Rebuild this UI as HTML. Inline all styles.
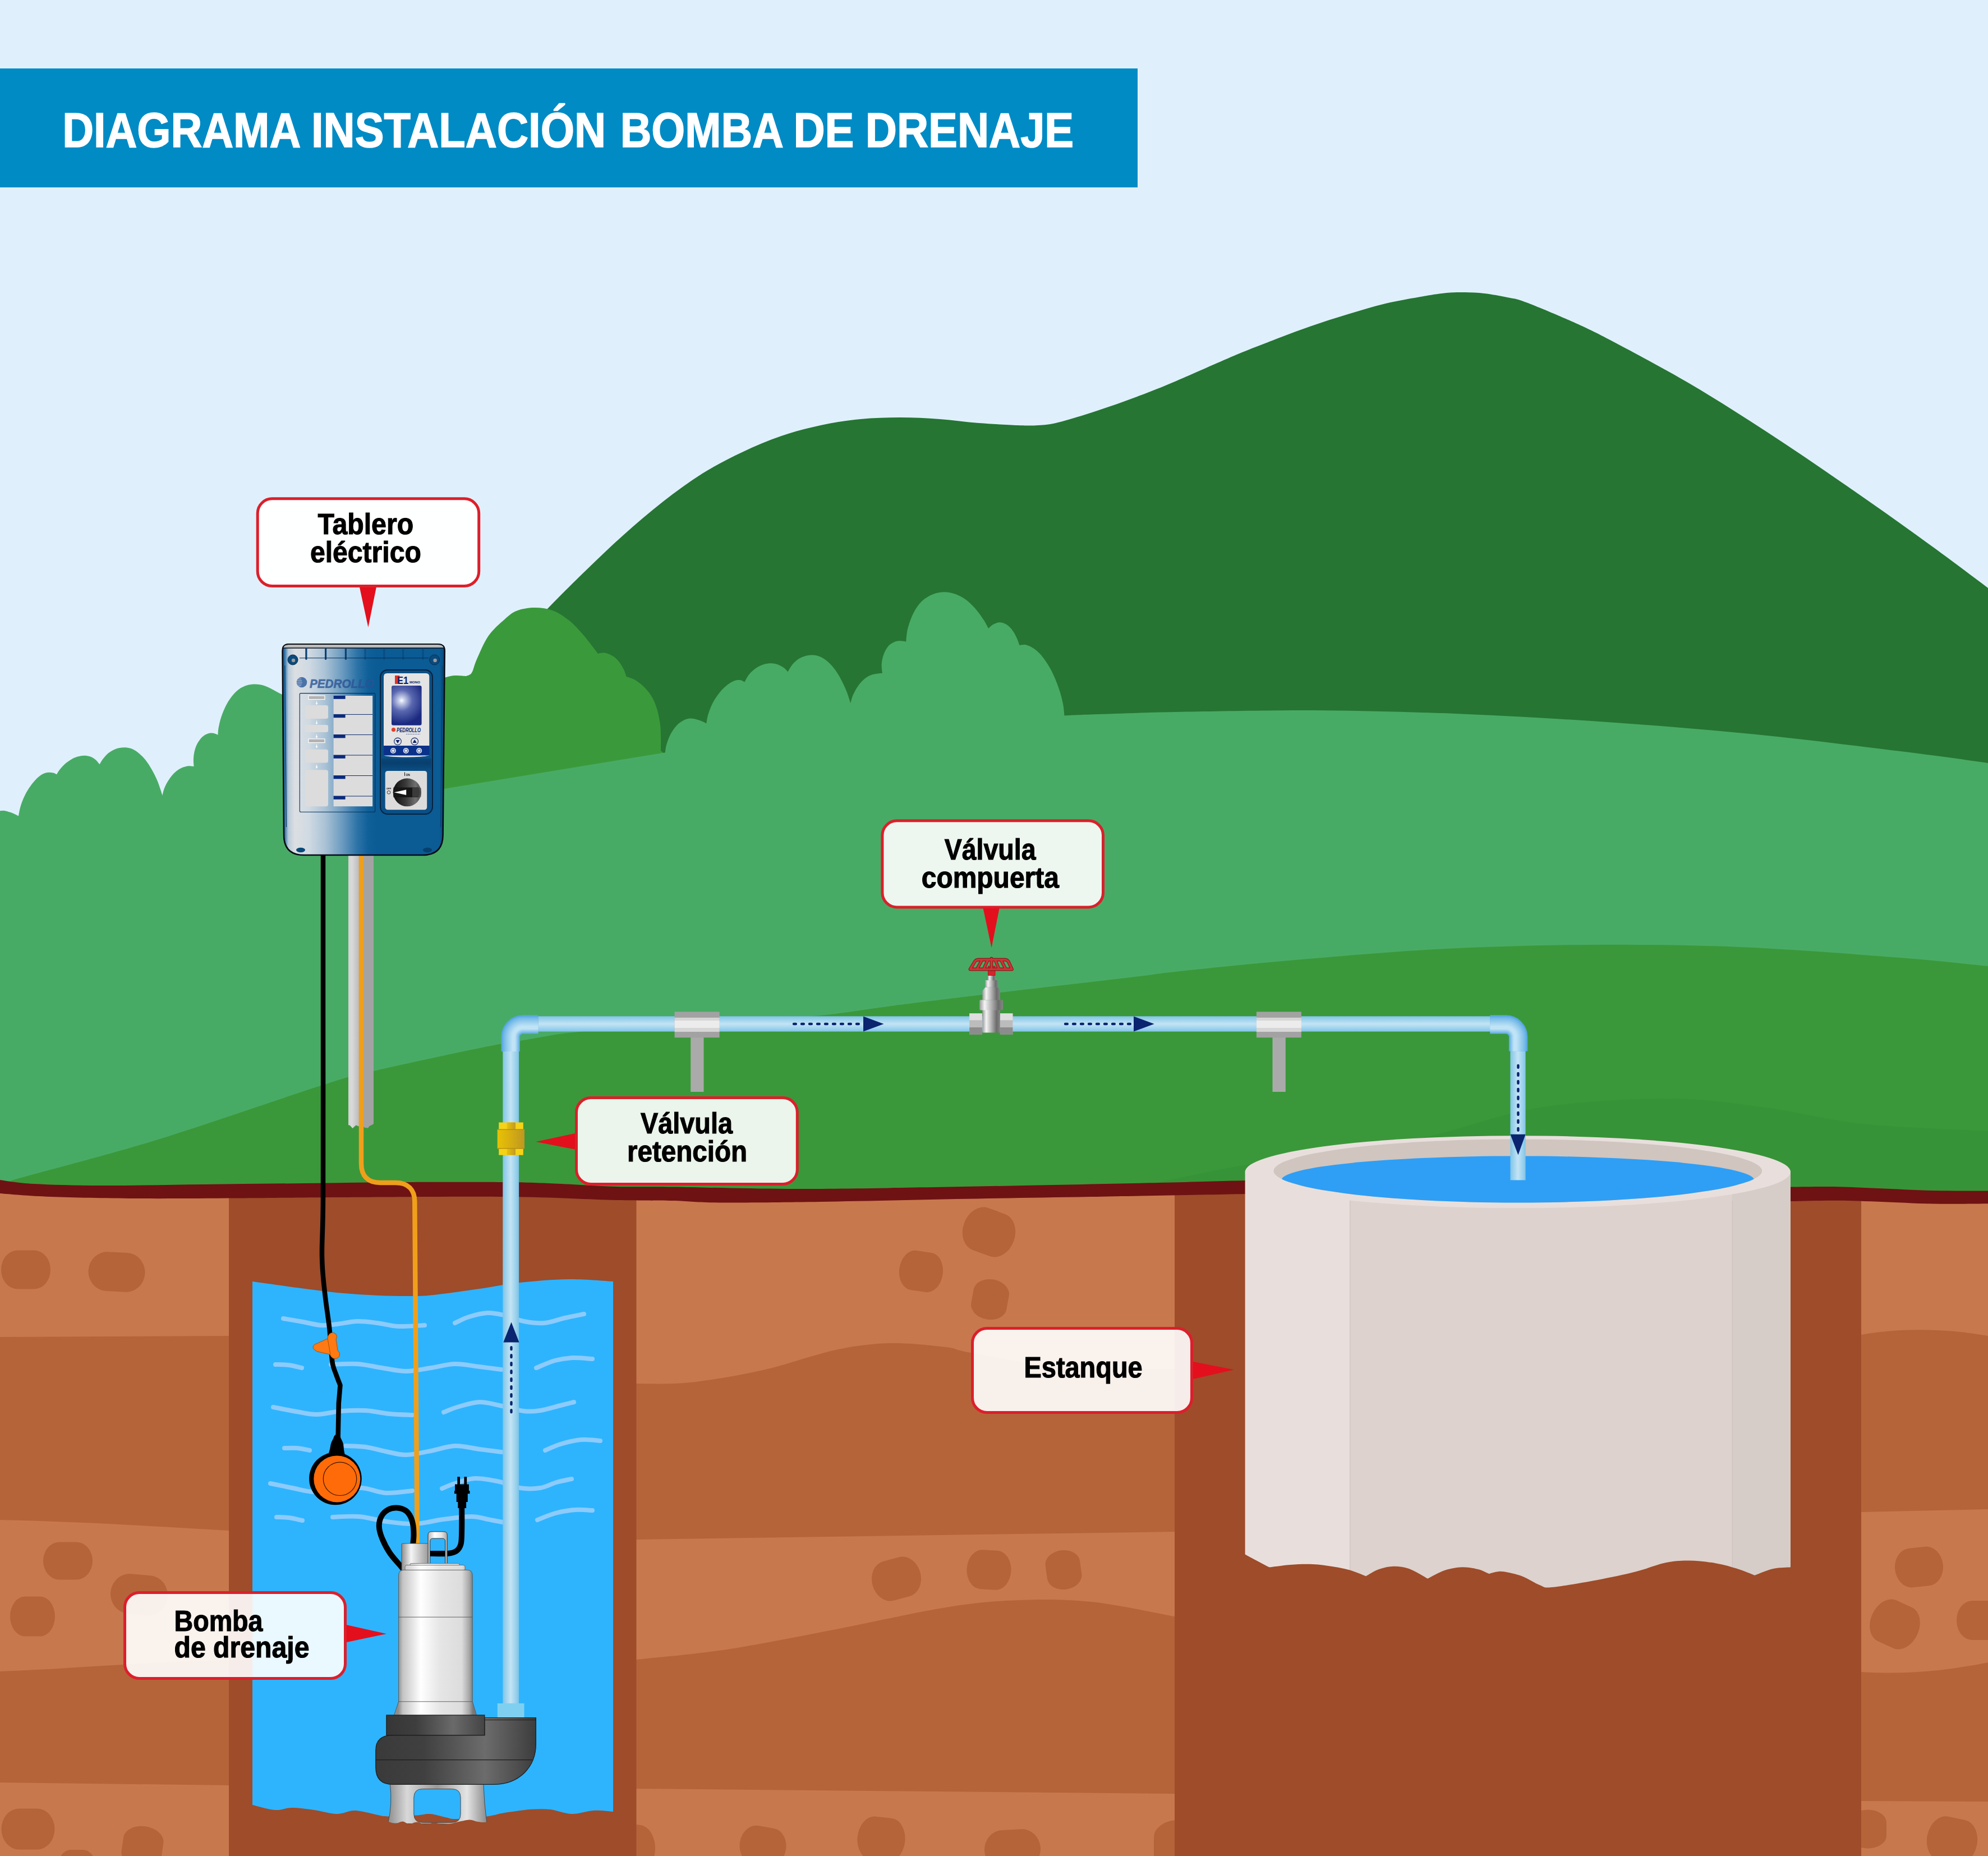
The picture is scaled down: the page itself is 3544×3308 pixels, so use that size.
<!DOCTYPE html>
<html><head><meta charset="utf-8">
<title>Diagrama instalación bomba de drenaje</title>
<style>
html,body{margin:0;padding:0;background:#dff0fc;}
svg{display:block;}
text{font-family:"Liberation Sans",sans-serif;font-weight:bold;}
</style></head>
<body>
<svg width="3544" height="3308" viewBox="0 0 3544 3308">
<defs>
<linearGradient id="cg" x1="621" x2="641" y1="0" y2="0" gradientUnits="userSpaceOnUse"><stop offset="0" stop-color="#d2d2d2"/><stop offset="0.3" stop-color="#dadada"/><stop offset="1" stop-color="#b9b9b9"/></linearGradient>
<linearGradient id="pv" x1="896" x2="925" y1="0" y2="0" gradientUnits="userSpaceOnUse"><stop offset="0" stop-color="#7fc3e6"/><stop offset="0.18" stop-color="#98d0ec"/><stop offset="0.5" stop-color="#c3e4f4"/><stop offset="0.82" stop-color="#98d0ec"/><stop offset="1" stop-color="#7fc3e6"/></linearGradient>
<linearGradient id="pv2" x1="2692" x2="2720" y1="0" y2="0" gradientUnits="userSpaceOnUse"><stop offset="0" stop-color="#7fc3e6"/><stop offset="0.18" stop-color="#98d0ec"/><stop offset="0.5" stop-color="#c3e4f4"/><stop offset="0.82" stop-color="#98d0ec"/><stop offset="1" stop-color="#7fc3e6"/></linearGradient>
<linearGradient id="ph" x1="0" x2="0" y1="1811" y2="1839" gradientUnits="userSpaceOnUse"><stop offset="0" stop-color="#7fc3e6"/><stop offset="0.18" stop-color="#98d0ec"/><stop offset="0.5" stop-color="#c3e4f4"/><stop offset="0.82" stop-color="#98d0ec"/><stop offset="1" stop-color="#7fc3e6"/></linearGradient>
<linearGradient id="brass" x1="886" x2="935" y1="0" y2="0" gradientUnits="userSpaceOnUse"><stop offset="0" stop-color="#e9c204"/><stop offset="0.45" stop-color="#d8b010"/><stop offset="1" stop-color="#be9722"/></linearGradient>
<linearGradient id="brassn" x1="903.5" x2="919" y1="0" y2="0" gradientUnits="userSpaceOnUse"><stop offset="0" stop-color="#e4c20c"/><stop offset="0.7" stop-color="#cfa516"/><stop offset="1" stop-color="#c09a2a"/></linearGradient>
<linearGradient id="slv" x1="0" x2="1" y1="0" y2="0"><stop offset="0" stop-color="#9a9a9a"/><stop offset="0.22" stop-color="#f4f4f4"/><stop offset="0.5" stop-color="#b4b4b4"/><stop offset="0.8" stop-color="#6c6c6c"/><stop offset="1" stop-color="#858585"/></linearGradient>
<linearGradient id="pb" x1="710" x2="843" y1="0" y2="0" gradientUnits="userSpaceOnUse"><stop offset="0" stop-color="#8d8d8d"/><stop offset="0.06" stop-color="#c4c4c4"/><stop offset="0.3" stop-color="#ffffff"/><stop offset="0.55" stop-color="#e6e6e6"/><stop offset="0.85" stop-color="#dcdcdc"/><stop offset="0.95" stop-color="#a8a8a8"/><stop offset="1" stop-color="#787878"/></linearGradient>
<linearGradient id="pgl" x1="716" x2="764" y1="0" y2="0" gradientUnits="userSpaceOnUse"><stop offset="0" stop-color="#8d8d8d"/><stop offset="0.35" stop-color="#f5f5f5"/><stop offset="1" stop-color="#9a9a9a"/></linearGradient>
<linearGradient id="pvol" x1="670" x2="956" y1="0" y2="0" gradientUnits="userSpaceOnUse"><stop offset="0" stop-color="#3a3a3a"/><stop offset="0.3" stop-color="#404040"/><stop offset="0.68" stop-color="#6c6c6c"/><stop offset="1" stop-color="#3c3c3c"/></linearGradient>
<linearGradient id="pcol" x1="689" x2="864" y1="0" y2="0" gradientUnits="userSpaceOnUse"><stop offset="0" stop-color="#363636"/><stop offset="0.3" stop-color="#3e3e3e"/><stop offset="0.68" stop-color="#6a6a6a"/><stop offset="1" stop-color="#444"/></linearGradient>
<linearGradient id="pleg" x1="690" x2="868" y1="0" y2="0" gradientUnits="userSpaceOnUse"><stop offset="0" stop-color="#8a8a8a"/><stop offset="0.2" stop-color="#d8d8d8"/><stop offset="0.5" stop-color="#9a9a9a"/><stop offset="0.8" stop-color="#e4e4e4"/><stop offset="1" stop-color="#8a8a8a"/></linearGradient>
<linearGradient id="hdl" x1="763" x2="797.3" y1="0" y2="0" gradientUnits="userSpaceOnUse"><stop offset="0" stop-color="#b5b5b5"/><stop offset="0.35" stop-color="#ffffff"/><stop offset="0.7" stop-color="#e6e6e6"/><stop offset="1" stop-color="#a5a5a5"/></linearGradient>
<clipPath id="tin"><ellipse cx="2705.8" cy="2087" rx="435.4" ry="56.5"/></clipPath>
<linearGradient id="pg" x1="504" x2="792" y1="0" y2="0" gradientUnits="userSpaceOnUse"><stop offset="0" stop-color="#0b5792"/><stop offset="0.012" stop-color="#2f72a6"/><stop offset="0.035" stop-color="#b9cbda"/><stop offset="0.075" stop-color="#dcdfe2"/><stop offset="0.16" stop-color="#d0dae3"/><stop offset="0.26" stop-color="#abc3d6"/><stop offset="0.37" stop-color="#6a9abf"/><stop offset="0.46" stop-color="#2d74a7"/><stop offset="0.53" stop-color="#0f5f99"/><stop offset="0.58" stop-color="#0b5b95"/><stop offset="0.97" stop-color="#0b5b95"/><stop offset="1" stop-color="#084a7c"/></linearGradient>
<radialGradient id="lcd" cx="716" cy="1248.5" r="42" gradientUnits="userSpaceOnUse"><stop offset="0" stop-color="#ffffff"/><stop offset="0.12" stop-color="#c9d0ea"/><stop offset="0.45" stop-color="#5a68b0"/><stop offset="1" stop-color="#1b2a80"/></radialGradient>
<linearGradient id="knob" x1="701" x2="751" y1="0" y2="0" gradientUnits="userSpaceOnUse"><stop offset="0" stop-color="#0e0e0e"/><stop offset="0.45" stop-color="#3a3a3a"/><stop offset="0.8" stop-color="#707070"/><stop offset="1" stop-color="#4a4a4a"/></linearGradient>
<linearGradient id="modg" x1="0" x2="0" y1="1346" y2="1374" gradientUnits="userSpaceOnUse"><stop offset="0" stop-color="#0a4a80"/><stop offset="0.5" stop-color="#083d6b"/><stop offset="1" stop-color="#0a4f85"/></linearGradient>
</defs>
<rect width="3544" height="3308" fill="#dff0fc"/>
<rect x="0" y="122" width="2028" height="212" fill="#008bc5"/>
<text x="111.2" y="261.6" font-size="87.6" fill="#fff" stroke="#fff" stroke-width="1.6" textLength="425.1" lengthAdjust="spacingAndGlyphs">DIAGRAMA</text>
<text x="555.0" y="261.6" font-size="87.6" fill="#fff" stroke="#fff" stroke-width="1.6" textLength="525.2" lengthAdjust="spacingAndGlyphs">INSTALACIÓN</text>
<text x="1105.7" y="261.6" font-size="87.6" fill="#fff" stroke="#fff" stroke-width="1.6" textLength="291.1" lengthAdjust="spacingAndGlyphs">BOMBA</text>
<text x="1414.4" y="261.6" font-size="87.6" fill="#fff" stroke="#fff" stroke-width="1.6" textLength="108.1" lengthAdjust="spacingAndGlyphs">DE</text>
<text x="1542.8" y="261.6" font-size="87.6" fill="#fff" stroke="#fff" stroke-width="1.6" textLength="371.4" lengthAdjust="spacingAndGlyphs">DRENAJE</text>
<path fill="#267533" d="M900.0,1165.0 C912.8,1151.5 953.5,1108.2 977.0,1084.0 C1000.5,1059.8 1018.7,1041.7 1041.0,1020.0 C1063.3,998.3 1087.5,975.0 1111.0,954.0 C1134.5,933.0 1158.5,912.3 1182.0,894.0 C1205.5,875.7 1228.5,858.7 1252.0,844.0 C1275.5,829.3 1299.5,817.2 1323.0,806.0 C1346.5,794.8 1369.7,785.0 1393.0,777.0 C1416.3,769.0 1439.5,763.0 1463.0,758.0 C1486.5,753.0 1510.5,749.3 1534.0,747.0 C1557.5,744.7 1580.5,744.0 1604.0,744.0 C1627.5,744.0 1651.5,745.3 1675.0,747.0 C1698.5,748.7 1721.7,752.2 1745.0,754.0 C1768.3,755.8 1797.3,757.3 1815.0,758.0 C1832.7,758.7 1839.2,758.8 1851.0,758.0 C1862.8,757.2 1868.5,757.3 1886.0,753.0 C1903.5,748.7 1932.5,739.7 1956.0,732.0 C1979.5,724.3 2003.5,715.8 2027.0,707.0 C2050.5,698.2 2068.2,691.2 2097.0,679.0 C2125.8,666.8 2171.5,646.0 2200.0,634.0 C2228.5,622.0 2245.5,615.7 2268.0,607.0 C2290.5,598.3 2312.5,589.8 2335.0,582.0 C2357.5,574.2 2380.5,566.8 2403.0,560.0 C2425.5,553.2 2447.5,546.3 2470.0,541.0 C2492.5,535.7 2519.8,531.2 2538.0,528.0 C2556.2,524.8 2566.7,523.2 2579.0,522.0 C2591.3,520.8 2600.8,520.8 2612.0,521.0 C2623.2,521.2 2633.5,521.5 2646.0,523.0 C2658.5,524.5 2674.5,527.3 2687.0,530.0 C2699.5,532.7 2700.7,531.3 2721.0,539.0 C2741.3,546.7 2783.2,564.3 2809.0,576.0 C2834.8,587.7 2842.3,591.2 2876.0,609.0 C2909.7,626.8 2965.8,656.5 3011.0,683.0 C3056.2,709.5 3101.8,738.7 3147.0,768.0 C3192.2,797.3 3237.0,828.0 3282.0,859.0 C3327.0,890.0 3373.3,922.5 3417.0,954.0 C3460.7,985.5 3496.8,1012.3 3544.0,1048.0 C3591.2,1083.7 3674.0,1148.0 3700.0,1168.0 L3700,1600 L900,1600 Z"/>
<path fill="#3a9a3b" d="M760.0,1215.0 L760.0,1215.0 C765.2,1213.8 782.7,1209.8 791.0,1208.0 C799.3,1206.2 803.3,1204.5 810.0,1204.0 C816.7,1203.5 827.5,1204.8 831.0,1205.0 L831.0,1205.0 C832.7,1204.0 837.8,1204.0 841.0,1199.0 C844.2,1194.0 845.0,1186.0 850.0,1175.0 C855.0,1164.0 862.7,1144.9 871.0,1133.0 C879.3,1121.1 891.6,1110.8 900.0,1103.4 C908.4,1096.0 912.6,1091.8 921.6,1088.4 C930.6,1085.0 943.1,1083.0 953.9,1083.0 C964.7,1083.0 976.2,1084.6 986.2,1088.4 C996.2,1092.2 1005.6,1098.8 1014.2,1105.6 C1022.8,1112.4 1031.1,1121.8 1037.9,1129.3 C1044.7,1136.8 1050.5,1145.0 1055.2,1150.9 C1059.9,1156.8 1064.2,1162.6 1066.0,1164.9 L1066.0,1164.9 C1068.2,1164.7 1074.2,1162.9 1078.9,1163.8 C1083.6,1164.7 1089.7,1167.4 1094.0,1170.3 C1098.3,1173.2 1101.7,1177.0 1104.7,1181.0 C1107.8,1185.0 1110.3,1189.9 1112.3,1194.0 C1114.3,1198.1 1115.9,1203.8 1116.6,1205.8 L1116.6,1205.8 C1119.3,1206.9 1127.2,1208.9 1132.8,1212.3 C1138.4,1215.7 1145.0,1221.1 1150.0,1226.3 C1155.0,1231.5 1159.3,1237.0 1162.9,1243.5 C1166.5,1250.0 1169.3,1257.2 1171.6,1265.1 C1173.9,1273.0 1175.8,1283.1 1176.9,1291.0 C1178.0,1298.9 1177.8,1304.7 1178.0,1312.5 C1178.2,1320.3 1178.0,1333.8 1178.0,1338.0 L1186,1345 L760,1420 Z"/>
<path fill="#48ab65" d="M-20.0,1446.0 L-20.0,1446.0 C-16.7,1445.9 -4.7,1445.4 0.0,1445.2 C4.7,1445.0 5.1,1444.5 8.0,1444.9 C10.9,1445.3 14.7,1446.6 17.7,1447.6 C20.7,1448.6 23.2,1449.7 25.8,1450.8 C28.4,1451.9 31.8,1453.8 33.0,1454.4 L33.0,1454.4 C33.5,1451.8 34.6,1444.3 36.2,1438.8 C37.8,1433.2 40.2,1426.7 42.7,1421.1 C45.2,1415.5 48.1,1410.1 51.5,1405.0 C54.9,1399.9 59.0,1394.5 62.8,1390.5 C66.5,1386.5 70.2,1383.1 74.0,1380.8 C77.8,1378.5 81.8,1377.3 85.3,1376.8 C88.8,1376.3 92.4,1377.0 95.0,1377.6 C97.6,1378.2 100.1,1379.8 101.1,1380.3 L101.1,1380.3 C101.9,1378.9 103.7,1375.1 106.2,1372.0 C108.7,1368.9 112.4,1364.6 115.9,1361.5 C119.4,1358.4 123.5,1355.7 127.2,1353.5 C130.9,1351.3 134.7,1349.7 138.4,1348.6 C142.2,1347.5 145.9,1346.7 149.7,1346.7 C153.5,1346.7 157.5,1347.3 161.0,1348.6 C164.5,1349.9 167.8,1352.0 170.6,1354.3 C173.3,1356.6 176.3,1361.0 177.5,1362.3 L177.5,1362.3 C178.5,1360.7 180.9,1356.0 183.5,1352.7 C186.1,1349.4 189.4,1345.2 193.2,1342.2 C196.9,1339.2 201.4,1336.6 206.0,1334.9 C210.6,1333.2 215.9,1332.3 220.5,1332.2 C225.1,1332.1 229.1,1332.6 233.4,1334.1 C237.7,1335.6 242.0,1338.0 246.3,1341.4 C250.6,1344.8 255.2,1349.3 259.2,1354.3 C263.2,1359.3 266.9,1365.2 270.4,1371.2 C273.9,1377.2 277.4,1384.3 280.1,1390.5 C282.8,1396.7 284.9,1403.7 286.5,1408.2 C288.1,1412.8 288.9,1416.2 289.4,1417.8 L289.4,1417.8 C290.0,1415.7 291.2,1409.5 292.9,1405.3 C294.6,1401.0 296.7,1396.6 299.4,1392.3 C302.1,1388.0 305.6,1382.9 309.2,1379.2 C312.8,1375.5 317.1,1372.2 321.0,1370.0 C324.9,1367.8 329.5,1366.6 332.8,1365.8 C336.1,1365.0 338.5,1365.4 340.6,1365.4 C342.7,1365.5 344.8,1366.0 345.6,1366.1 L345.6,1366.1 C345.5,1364.1 344.8,1358.7 344.9,1354.3 C345.0,1349.9 345.4,1344.7 346.5,1339.9 C347.6,1335.1 349.4,1329.9 351.7,1325.6 C354.0,1321.2 357.2,1316.8 360.2,1313.8 C363.1,1310.8 366.3,1309.1 369.4,1307.9 C372.5,1306.7 376.0,1306.5 378.6,1306.6 C381.2,1306.7 383.5,1307.8 385.1,1308.3 C386.7,1308.8 387.8,1309.6 388.4,1309.9 L388.4,1309.9 C388.6,1307.7 388.7,1302.0 389.7,1296.8 C390.7,1291.6 392.1,1284.8 394.2,1278.5 C396.3,1272.2 399.0,1265.0 402.1,1258.9 C405.2,1252.8 408.7,1246.9 412.6,1241.9 C416.5,1236.9 421.0,1232.2 425.6,1228.8 C430.2,1225.4 435.0,1223.1 440.0,1221.6 C445.0,1220.1 450.5,1219.5 455.7,1219.6 C460.9,1219.7 466.2,1220.6 471.4,1222.2 C476.6,1223.8 482.3,1227.0 487.1,1229.4 C491.9,1231.8 497.2,1235.0 500.2,1236.6 C503.1,1238.2 501.5,1236.6 504.8,1239.2 C508.1,1241.8 515.0,1246.5 520.0,1252.0 C525.0,1257.5 532.5,1268.7 535.0,1272.0 L535,1450 L791,1406 L1185.8,1341.2 L1185.8,1341.2 C1186.2,1338.8 1186.6,1332.5 1188.2,1327.1 C1189.8,1321.7 1192.2,1314.7 1195.2,1309.0 C1198.2,1303.3 1202.4,1297.1 1206.3,1292.9 C1210.2,1288.7 1214.4,1286.0 1218.4,1283.9 C1222.4,1281.8 1226.1,1280.6 1230.4,1280.4 C1234.8,1280.2 1240.5,1281.8 1244.5,1282.9 C1248.5,1284.0 1252.1,1285.8 1254.6,1286.9 C1257.0,1288.0 1258.4,1288.9 1259.2,1289.3 L1259.2,1289.3 C1259.8,1286.5 1260.7,1278.9 1262.6,1272.8 C1264.5,1266.7 1267.3,1259.1 1270.7,1252.7 C1274.1,1246.3 1278.4,1240.0 1282.7,1234.6 C1287.0,1229.2 1292.4,1224.0 1296.8,1220.5 C1301.2,1217.0 1305.2,1214.8 1308.9,1213.4 C1312.6,1212.0 1315.9,1211.7 1319.0,1212.0 C1322.1,1212.3 1326.0,1214.9 1327.4,1215.5 L1327.4,1215.5 C1328.7,1213.3 1331.8,1206.4 1335.1,1202.4 C1338.4,1198.4 1342.8,1194.3 1347.1,1191.3 C1351.4,1188.3 1356.5,1185.8 1361.2,1184.3 C1365.9,1182.8 1370.9,1182.2 1375.3,1182.3 C1379.7,1182.4 1383.7,1183.4 1387.4,1184.7 C1391.1,1186.0 1394.6,1188.2 1397.4,1190.3 C1400.2,1192.4 1403.3,1196.1 1404.5,1197.3 L1404.5,1197.3 C1406.0,1195.0 1410.0,1187.3 1413.5,1183.3 C1417.0,1179.3 1421.2,1175.7 1425.6,1173.2 C1430.0,1170.7 1435.3,1169.1 1439.7,1168.2 C1444.1,1167.3 1447.5,1167.1 1451.8,1167.8 C1456.1,1168.5 1461.1,1169.6 1465.8,1172.2 C1470.5,1174.8 1475.5,1178.9 1479.9,1183.3 C1484.3,1187.7 1488.3,1192.9 1492.0,1198.4 C1495.7,1203.9 1499.1,1210.5 1502.1,1216.5 C1505.1,1222.5 1507.8,1228.5 1510.1,1234.6 C1512.4,1240.7 1515.2,1250.1 1516.2,1253.2 L1516.2,1253.2 C1517.0,1250.8 1518.4,1243.8 1520.8,1238.5 C1523.2,1233.2 1526.8,1226.5 1530.5,1221.5 C1534.2,1216.5 1538.8,1211.7 1543.0,1208.5 C1547.2,1205.3 1550.5,1203.7 1555.5,1202.2 C1560.5,1200.8 1570.0,1200.2 1572.9,1199.8 L1572.9,1199.8 C1572.7,1197.1 1571.3,1189.2 1571.7,1183.5 C1572.1,1177.8 1573.4,1171.4 1575.5,1165.9 C1577.6,1160.5 1580.8,1154.6 1584.3,1150.8 C1587.8,1147.0 1592.8,1144.6 1596.8,1143.2 C1600.8,1141.8 1605.0,1142.4 1608.1,1142.5 C1611.2,1142.6 1614.0,1143.5 1615.2,1143.7 L1615.2,1143.7 C1615.7,1139.8 1616.0,1129.1 1618.2,1120.6 C1620.4,1112.1 1624.1,1101.1 1628.3,1092.9 C1632.5,1084.7 1637.5,1077.2 1643.4,1071.6 C1649.3,1065.9 1656.8,1061.7 1663.5,1059.0 C1670.2,1056.3 1676.9,1055.2 1683.6,1055.2 C1690.3,1055.2 1697.0,1056.5 1703.7,1059.0 C1710.4,1061.5 1717.5,1065.5 1723.8,1070.3 C1730.1,1075.1 1736.4,1082.0 1741.4,1087.9 C1746.4,1093.8 1750.5,1100.1 1754.0,1105.5 C1757.5,1110.9 1760.8,1117.7 1762.1,1120.1 L1762.1,1120.1 C1763.5,1118.9 1767.1,1114.9 1770.4,1113.1 C1773.7,1111.3 1777.7,1109.3 1781.7,1109.3 C1785.7,1109.3 1790.3,1110.6 1794.3,1113.1 C1798.3,1115.6 1802.5,1120.2 1805.6,1124.4 C1808.7,1128.6 1811.1,1133.9 1813.1,1138.2 C1815.1,1142.5 1816.7,1148.0 1817.4,1150.0 L1817.4,1150.0 C1819.4,1149.9 1825.0,1148.3 1829.5,1149.5 C1834.0,1150.7 1839.6,1153.3 1844.6,1157.1 C1849.6,1160.9 1854.7,1165.7 1859.7,1172.2 C1864.7,1178.7 1870.1,1187.1 1874.7,1196.1 C1879.3,1205.1 1883.9,1216.6 1887.3,1226.2 C1890.7,1235.8 1893.2,1245.7 1894.9,1253.9 C1896.6,1262.1 1897.0,1271.7 1897.4,1275.3 C1906.2,1275.0 1915.3,1274.3 1950.0,1273.2 C1984.7,1272.1 2037.1,1269.9 2105.6,1268.7 C2174.1,1267.5 2275.8,1265.5 2361.0,1266.2 C2446.2,1266.9 2531.8,1269.5 2617.0,1273.0 C2702.2,1276.5 2787.3,1281.5 2872.5,1287.5 C2957.7,1293.5 3042.8,1300.3 3128.0,1308.8 C3213.2,1317.3 3314.5,1330.1 3383.8,1338.6 C3453.1,1347.1 3491.3,1352.6 3544.0,1360.0 C3596.7,1367.4 3674.0,1379.2 3700.0,1383.0 L3700,2300 L-20,2300 Z"/>
<path fill="#3a983a" d="M-30.0,2125.0 C-22.0,2121.7 -32.3,2120.2 18.0,2105.0 C68.3,2089.8 179.2,2062.5 272.0,2034.0 C364.8,2005.5 509.3,1954.8 575.0,1934.0 C640.7,1913.2 618.5,1920.2 666.0,1909.0 C713.5,1897.8 814.3,1876.3 860.0,1867.0 C905.7,1857.7 911.0,1857.7 940.0,1853.0 C969.0,1848.3 984.0,1843.7 1034.0,1839.0 C1084.0,1834.3 1170.5,1829.7 1240.0,1825.0 C1309.5,1820.3 1397.7,1815.7 1451.0,1811.0 C1504.3,1806.3 1533.2,1800.5 1560.0,1797.0 C1586.8,1793.5 1580.3,1794.0 1612.0,1790.0 C1643.7,1786.0 1718.7,1776.8 1750.0,1773.0 C1781.3,1769.2 1755.7,1772.2 1800.0,1767.0 C1844.3,1761.8 1966.0,1747.9 2016.0,1742.0 C2066.0,1736.1 2054.8,1736.3 2100.0,1731.5 C2145.2,1726.7 2210.5,1719.6 2287.0,1713.0 C2363.5,1706.4 2468.5,1696.8 2559.0,1692.0 C2649.5,1687.2 2739.5,1684.7 2830.0,1684.0 C2920.5,1683.3 3011.3,1684.3 3102.0,1688.0 C3192.7,1691.7 3300.3,1700.3 3374.0,1706.0 C3447.7,1711.7 3489.7,1716.3 3544.0,1722.0 C3598.3,1727.7 3674.0,1737.0 3700.0,1740.0 L3700,2300 L-30,2300 Z"/>
<path fill="#379337" d="M1980.0,2125.0 C1996.7,2121.5 2043.3,2111.5 2080.0,2104.0 C2116.7,2096.5 2146.7,2089.3 2200.0,2080.0 C2253.3,2070.7 2342.7,2057.0 2400.0,2048.0 C2457.3,2039.0 2486.5,2038.3 2544.0,2026.0 C2601.5,2013.7 2673.2,1985.3 2745.0,1974.0 C2816.8,1962.7 2907.8,1958.0 2975.0,1958.0 C3042.2,1958.0 3090.3,1966.5 3148.0,1974.0 C3205.7,1981.5 3255.0,1996.1 3321.0,2003.0 C3387.0,2009.9 3480.8,2012.7 3544.0,2015.5 C3607.2,2018.3 3674.0,2019.2 3700.0,2020.0 L3700,2300 L1980,2300 Z"/>
<rect x="0" y="2125" width="2400" height="1200" fill="#c8784d"/>
<rect x="2399" y="2130" width="1146" height="1200" fill="#c8784d"/>
<path fill="#b5643a" d="M0,2383 L408,2381 L408,2728 C300,2722 150,2712 0,2709 Z"/>
<path fill="#b5643a" d="M0,2979 C120,2975 250,2962 408,2959 L408,3182 L0,3177 Z"/>
<path fill="#b5643a" d="M1134.0,2466.0 C1150.0,2465.7 1192.3,2468.0 1230.0,2464.0 C1267.7,2460.0 1316.7,2451.7 1360.0,2442.0 C1403.3,2432.3 1452.0,2414.0 1490.0,2406.0 C1528.0,2398.0 1555.3,2394.8 1588.0,2394.0 C1620.7,2393.2 1662.2,2398.2 1686.0,2401.0 C1709.8,2403.8 1695.3,2404.8 1731.0,2411.0 C1766.7,2417.2 1839.5,2433.2 1900.0,2438.0 C1960.5,2442.8 2061.7,2439.7 2094.0,2440.0 L2094,2730 L1134,2744 Z"/>
<path fill="#b5643a" d="M1134.0,2958.0 C1160.8,2955.0 1235.7,2949.0 1295.0,2940.0 C1354.3,2931.0 1424.8,2916.5 1490.0,2904.0 C1555.2,2891.5 1631.7,2873.7 1686.0,2865.0 C1740.3,2856.3 1772.7,2853.7 1816.0,2852.0 C1859.3,2850.3 1899.7,2850.2 1946.0,2855.0 C1992.3,2859.8 2069.3,2876.7 2094.0,2881.0 L2094,3197 L1134,3188 Z"/>
<path fill="#b5643a" d="M3318,2379 C3380,2368 3460,2366 3544,2381 L3544,2690 L3318,2695 Z"/>
<path fill="#b5643a" d="M3318,2980 C3400,2985 3470,2978 3544,2963 L3544,3211 L3318,3210 Z"/>
<rect x="2.0" y="2228.5" width="88.0" height="69.0" rx="29.0" ry="34.5" fill="#b5643a" transform="rotate(0 46.0 2263.0)"/>
<rect x="157.5" y="2232.0" width="101.0" height="70.0" rx="33.3" ry="35.0" fill="#b5643a" transform="rotate(3 208.0 2267.0)"/>
<rect x="77.0" y="2748.5" width="88.0" height="67.0" rx="29.0" ry="33.5" fill="#b5643a" transform="rotate(0 121.0 2782.0)"/>
<rect x="197.0" y="2806.5" width="102.0" height="71.0" rx="33.7" ry="35.5" fill="#b5643a" transform="rotate(5 248.0 2842.0)"/>
<rect x="18.0" y="2845.5" width="80.0" height="71.0" rx="26.4" ry="35.5" fill="#b5643a" transform="rotate(0 58.0 2881.0)"/>
<rect x="2.5" y="3223.5" width="95.0" height="73.0" rx="31.4" ry="36.5" fill="#b5643a" transform="rotate(0 50.0 3260.0)"/>
<rect x="218.0" y="3255.0" width="72.0" height="74.0" rx="36.0" ry="24.4" fill="#b5643a" transform="rotate(8 254.0 3292.0)"/>
<rect x="104.0" y="3297.0" width="66.0" height="56.0" rx="21.8" ry="28.0" fill="#b5643a" transform="rotate(0 137.0 3325.0)"/>
<rect x="1716.0" y="2156.0" width="94.0" height="80.0" rx="31.0" ry="40.0" fill="#b5643a" transform="rotate(20 1763.0 2196.0)"/>
<rect x="1603.0" y="2230.5" width="78.0" height="71.0" rx="25.7" ry="35.5" fill="#b5643a" transform="rotate(8 1642.0 2266.0)"/>
<rect x="1733.0" y="2280.0" width="64.0" height="72.0" rx="32.0" ry="23.8" fill="#b5643a" transform="rotate(10 1765.0 2316.0)"/>
<rect x="1554.0" y="2778.0" width="88.0" height="72.0" rx="29.0" ry="36.0" fill="#b5643a" transform="rotate(-15 1598.0 2814.0)"/>
<rect x="1723.5" y="2763.0" width="79.0" height="70.0" rx="26.1" ry="35.0" fill="#b5643a" transform="rotate(3 1763.0 2798.0)"/>
<rect x="1865.0" y="2763.0" width="62.0" height="70.0" rx="31.0" ry="23.1" fill="#b5643a" transform="rotate(-8 1896.0 2798.0)"/>
<rect x="1072.0" y="3251.0" width="96.0" height="88.0" rx="31.7" ry="44.0" fill="#b5643a" transform="rotate(5 1120.0 3295.0)"/>
<rect x="1318.5" y="3256.0" width="83.0" height="68.0" rx="27.4" ry="34.0" fill="#b5643a" transform="rotate(10 1360.0 3290.0)"/>
<rect x="1528.5" y="3239.0" width="85.0" height="78.0" rx="28.1" ry="39.0" fill="#b5643a" transform="rotate(6 1571.0 3278.0)"/>
<rect x="1755.0" y="3261.0" width="100.0" height="70.0" rx="33.0" ry="35.0" fill="#b5643a" transform="rotate(-3 1805.0 3296.0)"/>
<rect x="2057.0" y="3244.0" width="86.0" height="92.0" rx="43.0" ry="30.4" fill="#b5643a" transform="rotate(0 2100.0 3290.0)"/>
<rect x="3378.0" y="2758.0" width="86.0" height="70.0" rx="28.4" ry="35.0" fill="#b5643a" transform="rotate(-6 3421.0 2793.0)"/>
<rect x="3334.0" y="2855.0" width="88.0" height="80.0" rx="29.0" ry="40.0" fill="#b5643a" transform="rotate(25 3378.0 2895.0)"/>
<rect x="3488.0" y="2853.0" width="84.0" height="70.0" rx="27.7" ry="35.0" fill="#b5643a" transform="rotate(0 3530.0 2888.0)"/>
<rect x="3297.0" y="3225.5" width="66.0" height="69.0" rx="33.0" ry="22.8" fill="#b5643a" transform="rotate(0 3330.0 3260.0)"/>
<rect x="3435.0" y="3240.0" width="90.0" height="80.0" rx="29.7" ry="40.0" fill="#b5643a" transform="rotate(12 3480.0 3280.0)"/>
<rect x="408" y="2125" width="726.5" height="1200" fill="#9e4c2a"/>
<rect x="2094" y="2125" width="1224" height="1200" fill="#9e4c2a"/>
<path fill="#6e1213" d="M-20.0,2098.0 C-16.7,2098.8 -13.3,2101.0 0.0,2103.0 C13.3,2105.0 29.8,2108.3 60.0,2110.0 C90.2,2111.7 130.7,2112.8 181.0,2113.0 C231.3,2113.2 301.7,2111.7 362.0,2111.0 C422.3,2110.3 482.7,2109.7 543.0,2109.0 C603.3,2108.3 663.7,2107.3 724.0,2107.0 C784.3,2106.7 859.0,2106.5 905.0,2107.0 C951.0,2107.5 967.5,2108.7 1000.0,2110.0 C1032.5,2111.3 1066.7,2114.1 1100.0,2115.0 C1133.3,2115.9 1149.7,2114.8 1200.0,2115.5 C1250.3,2116.2 1338.2,2118.7 1402.0,2119.0 C1465.8,2119.3 1512.7,2118.4 1583.0,2117.4 C1653.3,2116.4 1743.5,2114.6 1824.0,2113.0 C1904.5,2111.4 2000.0,2109.5 2066.0,2108.0 C2132.0,2106.5 2181.0,2105.0 2220.0,2104.0 C2259.0,2103.0 2286.7,2102.3 2300.0,2102.0 L2300,2126 C2286.7,2126.3 2279.2,2126.8 2220.0,2128.0 C2160.8,2129.2 2031.0,2131.5 1945.0,2133.0 C1859.0,2134.5 1784.5,2135.5 1704.0,2137.0 C1623.5,2138.5 1532.5,2140.9 1462.0,2142.0 C1391.5,2143.1 1324.7,2143.7 1281.0,2143.4 C1237.3,2143.1 1230.2,2140.7 1200.0,2140.0 C1169.8,2139.3 1149.2,2140.2 1100.0,2139.0 C1050.8,2137.8 987.7,2133.8 905.0,2133.0 C822.3,2132.2 684.5,2133.6 604.0,2134.0 C523.5,2134.4 482.5,2135.2 422.0,2135.5 C361.5,2135.8 296.3,2136.4 241.0,2136.0 C185.7,2135.6 130.2,2134.5 90.0,2133.0 C49.8,2131.5 18.3,2128.5 0.0,2127.0 C-18.3,2125.5 -16.7,2124.5 -20.0,2124.0 Z"/>
<path fill="#6e1213" d="M3150.0,2116.0 C3157.0,2115.9 3172.2,2115.7 3192.0,2115.5 C3211.8,2115.3 3243.0,2114.6 3269.0,2115.0 C3295.0,2115.4 3318.3,2116.8 3348.0,2118.0 C3377.7,2119.2 3414.3,2121.3 3447.0,2122.0 C3479.7,2122.7 3518.5,2122.3 3544.0,2122.4 C3569.5,2122.5 3590.7,2122.4 3600.0,2122.4 L3600,2145 C3590.7,2145.0 3569.5,2145.1 3544.0,2145.2 C3518.5,2145.3 3479.7,2146.2 3447.0,2145.6 C3414.3,2145.0 3377.7,2142.7 3348.0,2141.7 C3318.3,2140.7 3295.0,2139.8 3269.0,2139.7 C3243.0,2139.6 3211.8,2140.8 3192.0,2141.0 C3172.2,2141.2 3157.0,2141.0 3150.0,2141.0 Z"/>
<path fill="#2eb4fd" d="M450.0,2284.0 C463.2,2285.8 503.8,2291.7 529.0,2295.0 C554.2,2298.3 576.8,2301.7 601.0,2304.0 C625.2,2306.3 651.0,2308.0 674.0,2309.0 C697.0,2310.0 721.0,2310.3 739.0,2310.0 C757.0,2309.7 762.7,2309.2 782.0,2307.0 C801.3,2304.8 830.8,2300.5 855.0,2297.0 C879.2,2293.5 900.5,2288.8 927.0,2286.0 C953.5,2283.2 986.3,2280.3 1014.0,2280.0 C1041.7,2279.7 1079.8,2283.3 1093.0,2284.0 L1093,3229 C1087.1,3228.7 1069.8,3226.3 1057.6,3227.0 C1045.3,3227.7 1032.3,3233.3 1019.5,3233.0 C1006.7,3232.7 992.9,3226.4 981.0,3225.0 C969.1,3223.6 958.2,3224.2 948.0,3224.7 C937.8,3225.2 929.0,3226.8 920.0,3228.0 C911.0,3229.2 902.7,3230.4 894.0,3232.0 C885.3,3233.6 881.3,3235.7 868.0,3237.4 C854.7,3239.1 826.3,3241.7 814.0,3242.0 C801.7,3242.3 801.8,3240.5 794.0,3239.0 C786.2,3237.5 775.8,3233.6 767.0,3233.0 C758.2,3232.4 753.5,3234.9 741.0,3235.6 C728.5,3236.3 702.8,3237.4 692.0,3237.4 C681.2,3237.4 681.8,3236.7 676.0,3235.6 C670.2,3234.5 664.6,3232.4 657.0,3231.0 C649.4,3229.6 640.0,3226.7 630.5,3227.0 C621.0,3227.3 611.8,3233.2 600.0,3233.0 C588.2,3232.8 573.3,3227.8 560.0,3226.0 C546.7,3224.2 531.7,3222.0 520.0,3222.0 C508.3,3222.0 501.7,3226.8 490.0,3226.0 C478.3,3225.2 456.7,3218.5 450.0,3217.0 Z"/>
<path fill="none" stroke="#8ccbfb" stroke-width="8" stroke-linecap="round" d="M505.0,2350.0 C510.8,2351.0 528.8,2354.0 540.0,2356.0 C551.2,2358.0 561.8,2361.3 572.0,2362.0 C582.2,2362.7 590.2,2361.2 601.0,2360.0 C611.8,2358.8 625.0,2355.3 637.0,2355.0 C649.0,2354.7 660.8,2356.5 673.0,2358.0 C685.2,2359.5 696.0,2363.3 710.0,2364.0 C724.0,2364.7 749.2,2362.3 757.0,2362.0"/>
<path fill="none" stroke="#8ccbfb" stroke-width="8" stroke-linecap="round" d="M811.0,2358.0 C815.2,2356.2 826.3,2350.0 836.0,2347.0 C845.7,2344.0 858.7,2340.5 869.0,2340.0 C879.3,2339.5 887.2,2341.5 898.0,2344.0 C908.8,2346.5 922.0,2352.7 934.0,2355.0 C946.0,2357.3 957.8,2359.0 970.0,2358.0 C982.2,2357.0 995.2,2351.7 1007.0,2349.0 C1018.8,2346.3 1035.3,2343.2 1041.0,2342.0"/>
<path fill="none" stroke="#8ccbfb" stroke-width="8" stroke-linecap="round" d="M491.0,2432.0 C495.0,2432.2 507.2,2432.0 515.0,2433.0 C522.8,2434.0 534.2,2437.2 538.0,2438.0"/>
<path fill="none" stroke="#8ccbfb" stroke-width="8" stroke-linecap="round" d="M590.0,2432.0 C597.8,2431.8 621.8,2430.0 637.0,2431.0 C652.2,2432.0 666.5,2435.8 681.0,2438.0 C695.5,2440.2 709.5,2444.0 724.0,2444.0 C738.5,2444.0 753.5,2440.2 768.0,2438.0 C782.5,2435.8 796.5,2431.3 811.0,2431.0 C825.5,2430.7 841.2,2434.3 855.0,2436.0 C868.8,2437.7 887.5,2440.2 894.0,2441.0"/>
<path fill="none" stroke="#8ccbfb" stroke-width="8" stroke-linecap="round" d="M956.0,2438.0 C961.5,2435.8 978.2,2428.0 989.0,2425.0 C999.8,2422.0 1009.8,2420.5 1021.0,2420.0 C1032.2,2419.5 1050.2,2421.7 1056.0,2422.0"/>
<path fill="none" stroke="#8ccbfb" stroke-width="8" stroke-linecap="round" d="M487.0,2508.0 C494.0,2509.3 516.0,2513.8 529.0,2516.0 C542.0,2518.2 551.8,2521.2 565.0,2521.0 C578.2,2520.8 593.5,2516.2 608.0,2515.0 C622.5,2513.8 637.5,2513.2 652.0,2514.0 C666.5,2514.8 681.2,2518.7 695.0,2520.0 C708.8,2521.3 728.3,2521.7 735.0,2522.0"/>
<path fill="none" stroke="#8ccbfb" stroke-width="8" stroke-linecap="round" d="M791.0,2517.0 C795.5,2515.3 807.3,2510.0 818.0,2507.0 C828.7,2504.0 842.8,2499.3 855.0,2499.0 C867.2,2498.7 877.8,2502.3 891.0,2505.0 C904.2,2507.7 922.0,2513.5 934.0,2515.0 C946.0,2516.5 952.2,2515.7 963.0,2514.0 C973.8,2512.3 989.0,2507.5 999.0,2505.0 C1009.0,2502.5 1019.0,2500.0 1023.0,2499.0"/>
<path fill="none" stroke="#8ccbfb" stroke-width="8" stroke-linecap="round" d="M507.0,2581.0 C510.8,2581.0 522.5,2580.3 530.0,2581.0 C537.5,2581.7 548.3,2584.3 552.0,2585.0"/>
<path fill="none" stroke="#8ccbfb" stroke-width="8" stroke-linecap="round" d="M616.0,2577.0 C622.0,2577.3 640.0,2577.3 652.0,2579.0 C664.0,2580.7 676.0,2584.7 688.0,2587.0 C700.0,2589.3 710.7,2593.2 724.0,2593.0 C737.3,2592.8 753.5,2588.7 768.0,2586.0 C782.5,2583.3 796.5,2577.5 811.0,2577.0 C825.5,2576.5 841.2,2581.2 855.0,2583.0 C868.8,2584.8 887.5,2587.2 894.0,2588.0"/>
<path fill="none" stroke="#8ccbfb" stroke-width="8" stroke-linecap="round" d="M972.0,2585.0 C976.5,2583.2 988.3,2577.2 999.0,2574.0 C1009.7,2570.8 1024.2,2567.0 1036.0,2566.0 C1047.8,2565.0 1064.3,2567.7 1070.0,2568.0"/>
<path fill="none" stroke="#8ccbfb" stroke-width="8" stroke-linecap="round" d="M482.0,2644.0 C488.5,2645.3 508.3,2649.5 521.0,2652.0 C533.7,2654.5 544.8,2658.3 558.0,2659.0 C571.2,2659.7 585.5,2657.2 600.0,2656.0 C614.5,2654.8 630.3,2651.2 645.0,2652.0 C659.7,2652.8 673.0,2660.2 688.0,2661.0 C703.0,2661.8 727.2,2657.7 735.0,2657.0"/>
<path fill="none" stroke="#8ccbfb" stroke-width="8" stroke-linecap="round" d="M788.0,2653.0 C791.8,2651.5 801.2,2647.0 811.0,2644.0 C820.8,2641.0 833.7,2635.5 847.0,2635.0 C860.3,2634.5 877.7,2638.2 891.0,2641.0 C904.3,2643.8 915.0,2650.2 927.0,2652.0 C939.0,2653.8 952.2,2653.7 963.0,2652.0 C973.8,2650.3 982.7,2644.7 992.0,2642.0 C1001.3,2639.3 1014.5,2637.0 1019.0,2636.0"/>
<path fill="none" stroke="#8ccbfb" stroke-width="8" stroke-linecap="round" d="M493.0,2704.0 C496.7,2704.2 507.3,2704.0 515.0,2705.0 C522.7,2706.0 535.0,2709.2 539.0,2710.0"/>
<path fill="none" stroke="#8ccbfb" stroke-width="8" stroke-linecap="round" d="M593.0,2704.0 C600.8,2703.8 623.8,2701.7 640.0,2703.0 C656.2,2704.3 673.3,2709.8 690.0,2712.0 C706.7,2714.2 723.3,2716.7 740.0,2716.0 C756.7,2715.3 773.3,2710.2 790.0,2708.0 C806.7,2705.8 826.7,2703.0 840.0,2703.0 C853.3,2703.0 860.7,2706.3 870.0,2708.0 C879.3,2709.7 891.7,2712.2 896.0,2713.0"/>
<path fill="none" stroke="#8ccbfb" stroke-width="8" stroke-linecap="round" d="M958.0,2709.0 C963.3,2707.0 978.8,2700.0 990.0,2697.0 C1001.2,2694.0 1014.0,2691.8 1025.0,2691.0 C1036.0,2690.2 1050.8,2691.8 1056.0,2692.0"/>
<path fill="url(#cg)" d="M621,1515 H641 V2008 L634.5,2005.5 L628.5,2011 L624,2006 L621,2005 Z"/>
<path fill="#a3a3a3" d="M647,1515 H666 V2003 L662,2005.5 L658.5,2007 L656,2010.5 L651,2010 L647,2008 Z"/>
<path fill="none" stroke="#f09f1b" stroke-width="8.5" d="M644,1515 V2074 C644,2096 656,2108 678,2108 H705 C727,2108 739.3,2120 739.3,2142 L743.7,2751"/>
<path fill="none" stroke="#000" stroke-width="8.5" stroke-linejoin="round" d="M576.0,1515.0 C576.0,1562.5 576.0,1697.5 576.0,1800.0 C576.0,1902.5 576.3,2056.8 576.0,2130.0 C575.7,2203.2 573.5,2210.0 574.0,2239.0 C574.5,2268.0 576.8,2283.0 579.0,2304.0 C581.2,2325.0 585.2,2349.0 587.0,2365.0 C588.8,2381.0 589.0,2389.0 590.0,2400.0 C591.0,2411.0 591.3,2422.3 593.0,2431.0 C594.7,2439.7 597.8,2445.7 600.0,2452.0 C602.2,2458.3 605.4,2466.2 606.5,2469.0 L603.8,2501 L602.6,2565"/>
<path fill="#ff7a12" stroke="#b34d00" stroke-width="1" stroke-linejoin="round" d="M587,2378 Q592,2373 598,2377 Q602,2381 599,2387 L602,2407 Q607,2411 605,2417 Q601,2423 594,2421 Q590,2419 588,2414 L566,2409 Q557,2405 558,2400 Q559,2396 566,2394 L584,2386 Q584,2381 587,2378 Z"/>
<path fill="none" stroke="#b34d00" stroke-width="1" d="M584,2386 L589,2414"/>
<path fill="#000" d="M595.5,2560 Q601,2552 606.5,2560 C608.5,2567 612,2569 612.5,2578 C613,2588 616,2594 616.5,2606 L583,2606 C583.5,2594 587.5,2588 589,2578 C590,2569 593.5,2567 595.5,2560 Z"/>
<circle cx="597.9" cy="2635.4" r="46.8" fill="#000"/>
<circle cx="600.8" cy="2635.9" r="41.5" fill="#ff6b08"/>
<circle cx="606" cy="2635.8" r="29.7" fill="none" stroke="#3a1800" stroke-width="1.2"/>
<rect x="896.3" y="1860" width="28.8" height="1180" fill="url(#pv)"/>
<rect x="950" y="1811.3" width="1720" height="27.3" fill="url(#ph)"/>
<path fill="none" stroke="#56a8e2" stroke-width="33.4" d="M959.4,1826.0 H932.2 A22.0,22.0 0 0 0 910.2,1848.0 V1874.1"/>
<path fill="none" stroke="#6ab3e6" stroke-width="30.0" d="M959.4,1826.7 H932.2 A21.4,21.4 0 0 0 910.9,1848.0 V1874.1"/>
<path fill="none" stroke="#79bce9" stroke-width="26.6" d="M959.4,1827.3 H932.2 A20.7,20.7 0 0 0 911.5,1848.0 V1874.1"/>
<path fill="none" stroke="#86c3eb" stroke-width="23.1" d="M959.4,1828.0 H932.2 A20.1,20.1 0 0 0 912.2,1848.0 V1874.1"/>
<path fill="none" stroke="#93caed" stroke-width="19.7" d="M959.4,1828.6 H932.2 A19.4,19.4 0 0 0 912.8,1848.0 V1874.1"/>
<path fill="none" stroke="#9fd1f0" stroke-width="16.3" d="M959.4,1829.2 H932.2 A18.8,18.8 0 0 0 913.5,1848.0 V1874.1"/>
<path fill="none" stroke="#aad8f2" stroke-width="12.9" d="M959.4,1829.9 H932.2 A18.1,18.1 0 0 0 914.1,1848.0 V1874.1"/>
<path fill="none" stroke="#b5def4" stroke-width="9.4" d="M959.4,1830.5 H932.2 A17.4,17.4 0 0 0 914.8,1848.0 V1874.1"/>
<path fill="none" stroke="#c0e4f6" stroke-width="6.0" d="M959.4,1831.2 H932.2 A16.8,16.8 0 0 0 915.4,1848.0 V1874.1"/>
<rect x="1231.2" y="1849" width="23.3" height="97" fill="#aaaaaa"/>
<rect x="1202.6" y="1803.3" width="80" height="46" fill="#a2a2a2"/>
<rect x="1202.6" y="1813.8" width="80" height="25.2" fill="#d6d6d6"/>
<rect x="1202.6" y="1819" width="80" height="13" fill="#ececec"/>
<rect x="2268.5" y="1849" width="23.3" height="97" fill="#aaaaaa"/>
<rect x="2239.9" y="1803.3" width="80" height="46" fill="#a2a2a2"/>
<rect x="2239.9" y="1813.8" width="80" height="25.2" fill="#d6d6d6"/>
<rect x="2239.9" y="1819" width="80" height="13" fill="#ececec"/>
<path d="M1415.0,1825.0 L1531.0,1825.0" stroke="#0a2470" stroke-width="4.4" stroke-linecap="round" stroke-dasharray="3.8 10.2" fill="none"/>
<path fill="#0a2470" d="M1539,1811.5 L1575.5,1825 L1539,1838.5 Z"/>
<path d="M1899.0,1825.0 L2015.0,1825.0" stroke="#0a2470" stroke-width="4.4" stroke-linecap="round" stroke-dasharray="3.8 10.2" fill="none"/>
<path fill="#0a2470" d="M2021,1811.5 L2057.7,1825 L2021,1838.5 Z"/>
<path d="M911.5,2517.0 L911.5,2400.0" stroke="#0a2470" stroke-width="4.4" stroke-linecap="round" stroke-dasharray="3.8 10.2" fill="none"/>
<path fill="#0a2470" d="M897.3,2392.6 L911.5,2356.4 L925.5,2392.6 Z"/>
<rect x="889.2" y="2000.5" width="43.6" height="58.2" fill="#f6d216"/>
<rect x="903.5" y="2000.5" width="15.5" height="58.2" fill="url(#brassn)"/>
<rect x="886.7" y="2012.6" width="48.3" height="34.9" fill="url(#brass)"/>
<rect x="886.7" y="2012.6" width="48.3" height="1.2" fill="#b08a10"/><rect x="886.7" y="2046.3" width="48.3" height="1.2" fill="#b08a10"/>
<rect x="1728.2" y="1806.2" width="22.6" height="37.7" fill="#bcbcbc"/>
<rect x="1728.2" y="1806.2" width="22.6" height="12.1" fill="#dedede"/>
<rect x="1728.2" y="1831.1" width="22.6" height="12.8" fill="#8c8c8c"/>
<rect x="1782.8" y="1806.2" width="22.6" height="37.7" fill="#bcbcbc"/>
<rect x="1782.8" y="1806.2" width="22.6" height="12.1" fill="#dedede"/>
<rect x="1782.8" y="1831.1" width="22.6" height="12.8" fill="#8c8c8c"/>
<rect x="1751.3" y="1798" width="31.5" height="42.5" fill="url(#slv)"/>
<rect x="1746.2" y="1782.3" width="41.7" height="18.3" rx="2" fill="url(#slv)"/>
<path d="M1756.3,1759.7 H1779.4 L1782.8,1766 V1782.3 H1751.3 V1766 Z" fill="url(#slv)"/>
<rect x="1756.3" y="1747" width="23.1" height="12.7" fill="url(#slv)"/>
<rect x="1761" y="1737" width="13" height="10.5" fill="url(#slv)"/>
<rect x="1761.5" y="1722" width="12.5" height="16.5" fill="#d6242a" stroke="#861a1c" stroke-width="0.8"/>
<path fill="none" stroke="#861a1c" stroke-width="5.8" stroke-linecap="round" stroke-linejoin="round" d="M1729.5,1727.5 L1738,1713.5 Q1740,1710.5 1745,1710.5 H1790.5 Q1795.5,1710.5 1797.5,1713.5 L1804,1727.5 M1729.5,1727.5 H1804 M1741.5,1727.5 L1750,1712 M1753.5,1727.5 L1760.5,1712 M1767.5,1708.5 V1728 M1781,1727.5 L1774.5,1712 M1793,1727.5 L1785,1712"/>
<path fill="none" stroke="#cf3336" stroke-width="3.6" stroke-linecap="round" stroke-linejoin="round" d="M1729.5,1727.5 L1738,1713.5 Q1740,1710.5 1745,1710.5 H1790.5 Q1795.5,1710.5 1797.5,1713.5 L1804,1727.5 M1729.5,1727.5 H1804 M1741.5,1727.5 L1750,1712 M1753.5,1727.5 L1760.5,1712 M1767.5,1708.5 V1728 M1781,1727.5 L1774.5,1712 M1793,1727.5 L1785,1712"/>
<path fill="url(#pleg)" stroke="#4a4a4a" stroke-width="1" fill-rule="evenodd" d="M695.2,3178 Q700,3215 691.6,3250 L868.2,3252 Q863,3215 861.8,3178 Z M753.2,3188.5 H805.7 Q821.1,3188.5 821.1,3204 V3233 Q821.1,3248.3 805.7,3248.3 H753.2 Q737.8,3248.3 737.8,3233 V3204 Q737.8,3188.5 753.2,3188.5 Z"/>
<path fill="none" stroke="#000" stroke-width="10" stroke-linecap="round" d="M736.3,2752.0 C736.5,2749.3 737.5,2741.5 737.5,2736.0 C737.5,2730.5 737.4,2724.4 736.5,2719.0 C735.6,2713.6 734.2,2707.9 732.0,2703.5 C729.8,2699.1 727.5,2695.2 723.4,2692.5 C719.3,2689.8 712.8,2687.9 707.5,2687.6 C702.2,2687.3 696.3,2688.3 691.7,2690.8 C687.1,2693.3 682.6,2697.5 680.0,2702.4 C677.4,2707.3 675.6,2713.8 675.8,2720.3 C676.0,2726.8 677.8,2733.6 681.0,2741.5 C684.2,2749.4 689.1,2759.3 694.9,2767.9 C700.7,2776.5 711.5,2787.8 716.0,2793.2 C720.5,2798.5 721.0,2798.9 722.0,2800.0"/>
<path fill="none" stroke="#000" stroke-width="10" d="M766.0,2769.0 C771.2,2769.0 789.4,2769.7 797.3,2769.0 C805.2,2768.3 809.2,2767.5 813.2,2764.7 C817.2,2761.9 819.9,2758.5 821.6,2752.0 C823.3,2745.5 822.9,2736.6 823.2,2725.6 C823.5,2714.6 823.2,2692.6 823.2,2686.0"/>
<path fill="#000" d="M811,2645.4 H835.9 V2657 H837.5 V2662.3 H833.8 V2677 H831.1 V2688 H816.3 V2677 H813.7 V2662.3 H810 V2657 H811 Z"/>
<rect x="815.3" y="2632.1" width="4.7" height="14" fill="#000"/><rect x="827.4" y="2632.1" width="4.8" height="14" fill="#000"/>
<rect x="716" y="2751" width="48" height="50" rx="2" fill="url(#pgl)" stroke="#444" stroke-width="0.8"/>
<path fill="url(#hdl)" stroke="#333" stroke-width="1" fill-rule="evenodd" d="M763,2790 V2736 Q763,2729.9 769,2729.9 H791.3 Q797.3,2729.9 797.3,2736 V2790 Z M766.7,2790 V2747 Q766.7,2742 771.7,2742 H788.6 Q793.6,2742 793.6,2747 V2790 Z"/>
<path fill="none" stroke="#000" stroke-width="10" d="M767.2,2769 H793.1"/>
<rect x="731" y="2786.5" width="88" height="6" rx="2" fill="url(#pb)" stroke="#555" stroke-width="0.8"/>
<rect x="722" y="2789.5" width="107" height="10" rx="3" fill="url(#pb)" stroke="#555" stroke-width="0.8"/>
<path fill="url(#pb)" stroke="#555" stroke-width="0.9" d="M710.6,2808 Q710.6,2798.3 720,2798.3 H833 Q842.2,2798.3 842.2,2808 V3032.8 L849.8,3058 H702.2 L710.6,3032.8 Z"/>
<path fill="none" stroke="#555" stroke-width="0.9" d="M710.6,2882.2 H842.2 M710.6,3032.8 H842.2"/>
<rect x="886.8" y="3035.9" width="47.7" height="27" fill="#7fd0f0"/>
<path fill="url(#pvol)" stroke="#1c1c1c" stroke-width="1.2" d="M863.9,3061.5 H955.4 V3108 C955.4,3150 925,3180.4 880,3180.4 H700 Q669.8,3180.4 669.8,3150 V3120 Q669.8,3092.7 700,3092.7 H863.9 Z"/>
<path fill="none" stroke="#1c1c1c" stroke-width="1.2" d="M669.8,3136.6 H949 M863.9,3065.5 H955.4"/>
<rect x="688.9" y="3056.9" width="175" height="35.8" fill="url(#pcol)" stroke="#1c1c1c" stroke-width="1.2"/>
<path fill="#9e4c2a" d="M672.0,3236.0 C674.0,3236.8 680.7,3239.2 684.0,3241.0 C687.3,3242.8 688.5,3245.0 692.0,3246.5 C695.5,3248.0 700.7,3250.0 705.0,3250.0 C709.3,3250.0 714.0,3246.3 718.0,3246.5 C722.0,3246.7 724.7,3250.8 729.0,3251.0 C733.3,3251.2 739.2,3247.3 744.0,3247.5 C748.8,3247.7 753.0,3251.8 758.0,3252.0 C763.0,3252.2 769.0,3248.5 774.0,3248.5 C779.0,3248.5 783.2,3251.7 788.0,3252.0 C792.8,3252.3 797.3,3251.5 803.0,3250.5 C808.7,3249.5 816.2,3247.2 822.0,3246.0 C827.8,3244.8 833.0,3243.3 838.0,3243.5 C843.0,3243.7 847.0,3246.3 852.0,3247.0 C857.0,3247.7 863.3,3248.5 868.0,3247.5 C872.7,3246.5 876.0,3243.4 880.0,3241.0 C884.0,3238.6 890.0,3234.3 892.0,3233.0 L892,3308 L672,3308 Z"/>
<path fill="#e8dfdc" d="M2219.6,2088.7 V2900 H2407 V2100 Z"/>
<path fill="#ddd2cd" d="M2406.6,2100 V2900 H3088.5 V2100 Z"/>
<path fill="#d6cdc8" d="M3088,2100 V2900 H3192 V2088.7 Z"/>
<path fill="none" stroke="#cfc3be" stroke-width="1.2" d="M2406.6,2140 V2900 M3088.3,2140 V2900"/>
<ellipse cx="2705.8" cy="2088.7" rx="486.2" ry="64.5" fill="#e8dfdc"/>
<ellipse cx="2705.8" cy="2087" rx="435.4" ry="56.5" fill="#d0c5bf"/>
<ellipse cx="2705.8" cy="2103" rx="421" ry="42.6" fill="#2e9ff5" clip-path="url(#tin)"/>
<path fill="#9e4c2a" d="M2219.6,2770.4 L2219.6,2770.4 C2226.8,2774.2 2255.4,2789.5 2262.6,2793.3 L2262.6,2793.3 C2268.8,2792.6 2287.1,2789.9 2300.0,2789.0 C2312.9,2788.1 2327.5,2787.5 2340.0,2788.0 C2352.5,2788.5 2363.9,2790.2 2375.0,2792.0 C2386.1,2793.8 2396.6,2795.7 2406.6,2798.6 C2416.6,2801.5 2430.2,2807.5 2434.9,2809.3 L2434.9,2809.3 C2438.8,2807.2 2449.8,2799.9 2458.0,2797.0 C2466.2,2794.1 2475.0,2791.9 2484.0,2791.7 C2493.0,2791.5 2501.8,2792.3 2512.0,2796.0 C2522.2,2799.7 2539.7,2810.7 2545.2,2813.6 L2545.2,2813.6 C2550.2,2811.2 2564.8,2802.4 2575.0,2799.0 C2585.2,2795.6 2596.6,2793.6 2606.6,2793.3 C2616.6,2793.0 2627.0,2795.1 2635.0,2797.0 C2643.0,2798.9 2651.2,2803.7 2654.5,2805.0 L2654.5,2805.0 C2656.8,2804.4 2663.6,2802.1 2668.0,2801.5 C2672.4,2800.9 2673.7,2800.0 2681.2,2801.3 C2688.7,2802.6 2702.5,2805.3 2713.2,2809.3 C2723.9,2813.3 2736.3,2822.0 2745.2,2825.3 C2754.1,2828.6 2749.6,2830.5 2766.5,2829.0 C2783.4,2827.5 2821.6,2820.8 2846.5,2816.2 C2871.4,2811.6 2895.4,2806.5 2915.8,2801.3 C2936.2,2796.2 2953.1,2788.6 2969.1,2785.3 C2985.1,2782.0 2996.7,2781.4 3011.8,2781.6 C3026.9,2781.8 3045.6,2784.0 3059.8,2786.4 C3074.0,2788.8 3085.7,2792.4 3097.1,2796.0 C3108.5,2799.6 3122.8,2805.8 3128.0,2807.7 L3128.0,2807.7 C3133.5,2805.8 3150.3,2798.4 3161.0,2796.0 C3171.7,2793.6 3186.8,2793.8 3192.0,2793.3  L3200,2793 L3200,2910 L2210,2910 L2210,2770 Z"/>
<rect x="2692.4" y="1860" width="27.2" height="243.4" fill="url(#pv2)"/>
<path fill="none" stroke="#56a8e2" stroke-width="33.4" d="M2656.5,1826.0 H2684.6 A22.0,22.0 0 0 1 2706.6,1848.0 V1873.6"/>
<path fill="none" stroke="#6ab3e6" stroke-width="30.0" d="M2656.5,1826.7 H2684.6 A21.4,21.4 0 0 1 2705.9,1848.0 V1873.6"/>
<path fill="none" stroke="#79bce9" stroke-width="26.6" d="M2656.5,1827.3 H2684.6 A20.7,20.7 0 0 1 2705.3,1848.0 V1873.6"/>
<path fill="none" stroke="#86c3eb" stroke-width="23.1" d="M2656.5,1828.0 H2684.6 A20.1,20.1 0 0 1 2704.7,1848.0 V1873.6"/>
<path fill="none" stroke="#93caed" stroke-width="19.7" d="M2656.5,1828.6 H2684.6 A19.4,19.4 0 0 1 2704.0,1848.0 V1873.6"/>
<path fill="none" stroke="#9fd1f0" stroke-width="16.3" d="M2656.5,1829.2 H2684.6 A18.8,18.8 0 0 1 2703.3,1848.0 V1873.6"/>
<path fill="none" stroke="#aad8f2" stroke-width="12.9" d="M2656.5,1829.9 H2684.6 A18.1,18.1 0 0 1 2702.7,1848.0 V1873.6"/>
<path fill="none" stroke="#b5def4" stroke-width="9.4" d="M2656.5,1830.5 H2684.6 A17.4,17.4 0 0 1 2702.0,1848.0 V1873.6"/>
<path fill="none" stroke="#c0e4f6" stroke-width="6.0" d="M2656.5,1831.2 H2684.6 A16.8,16.8 0 0 1 2701.4,1848.0 V1873.6"/>
<path d="M2706.4,1899.0 L2706.4,2016.0" stroke="#0a2470" stroke-width="4.4" stroke-linecap="round" stroke-dasharray="3.8 10.2" fill="none"/>
<path fill="#0a2470" d="M2692.4,2021.7 H2719.6 L2706.4,2058.5 Z"/>
<g><path d="M515,1148.2 H781 Q792.8,1148.2 792.7,1160 L789.6,1488 Q789.4,1524 753.5,1524 H542 Q506,1524 506,1488 L503.6,1160 Q503.6,1148.2 515,1148.2 Z" fill="url(#pg)" stroke="#070b14" stroke-width="2.6"/>
<path d="M515,1148.2 H781 Q790,1148.2 792,1155 H504.3 Q506,1148.2 515,1148.2 Z" fill="#bcbcbc" stroke="#070b14" stroke-width="1.5"/>
<path d="M507.8,1186 L510.5,1474 M788.6,1186 L785.6,1474" stroke="#083f6c" stroke-width="1.2" fill="none"/>
<rect x="544.3" y="1155" width="3.2" height="21" rx="1.5" fill="#0a4274" opacity="1.00"/>
<rect x="579.0" y="1155" width="3.2" height="21" rx="1.5" fill="#0a4274" opacity="1.00"/>
<rect x="614.8" y="1155" width="3.2" height="21" rx="1.5" fill="#0a4274" opacity="1.00"/>
<rect x="649.4" y="1155" width="3.2" height="21" rx="1.5" fill="#0a4274" opacity="0.55"/>
<rect x="683.2" y="1155" width="3.2" height="21" rx="1.5" fill="#0a4274" opacity="0.55"/>
<rect x="717.0" y="1155" width="3.2" height="21" rx="1.5" fill="#0a4274" opacity="0.55"/>
<rect x="752.4" y="1155" width="3.2" height="21" rx="1.5" fill="#0a4274" opacity="0.55"/>
<path d="M534,1172.8 H764" stroke="#072c52" stroke-width="1" />
<circle cx="522.0" cy="1176" r="9" fill="#0a4a7c" stroke="#06304f" stroke-width="1"/><circle cx="523.0" cy="1177" r="3.2" fill="#9a9a9a"/>
<circle cx="774.6" cy="1176" r="9" fill="#0a4a7c" stroke="#06304f" stroke-width="1"/><circle cx="775.6" cy="1177" r="3.2" fill="#9a9a9a"/>
<ellipse cx="536" cy="1515" rx="8" ry="4.2" fill="#074a78"/><ellipse cx="762" cy="1515" rx="8" ry="4.2" fill="#07406c"/>
<circle cx="538" cy="1216" r="9.3" fill="#33609d" opacity="0.85"/>
<path d="M529,1213 H538 M529,1216 H539 M529.5,1219 H538 M531,1210 H537 M531,1222 H537" stroke="#c9d6e4" stroke-width="1.1" opacity="0.8"/>
<text x="552" y="1225.5" font-size="22" font-style="italic" fill="#2a5596" opacity="0.8" stroke="#274f93" stroke-width="0.6" textLength="115" lengthAdjust="spacingAndGlyphs">PEDROLLO</text>
<rect x="534.3" y="1235.6" width="134.4" height="211.6" rx="2" fill="none" stroke="#062f55" stroke-width="1.1"/>
<rect x="550" y="1240.0" width="29" height="6.5" fill="#b2b2b2" stroke="#fff" stroke-width="1.2"/>
<rect x="550" y="1317.0" width="29" height="6.6" fill="#b2b2b2" stroke="#fff" stroke-width="1.2"/>
<rect x="544" y="1257.0" width="41" height="24.0" rx="3.5" fill="#dcdcdc"/>
<rect x="544" y="1292.0" width="41" height="13.0" rx="3.0" fill="#dcdcdc"/>
<rect x="544" y="1335.8" width="41" height="23.7" rx="3.5" fill="#dcdcdc"/>
<rect x="544" y="1372.3" width="41" height="65.0" rx="4.0" fill="#dcdcdc"/>
<path d="M564.5,1249.6 v3.6 h-1.3 l1.3,2.6 l1.3,-2.6 h-1.3" fill="#fff" stroke="#fff" stroke-width="1.0"/>
<path d="M564.5,1284.6 v3.6 h-1.3 l1.3,2.6 l1.3,-2.6 h-1.3" fill="#fff" stroke="#fff" stroke-width="1.0"/>
<path d="M564.5,1309.1 v3.6 h-1.3 l1.3,2.6 l1.3,-2.6 h-1.3" fill="#fff" stroke="#fff" stroke-width="1.0"/>
<path d="M564.5,1326.6 v3.6 h-1.3 l1.3,2.6 l1.3,-2.6 h-1.3" fill="#fff" stroke="#fff" stroke-width="1.0"/>
<path d="M564.5,1363.1 v3.6 h-1.3 l1.3,2.6 l1.3,-2.6 h-1.3" fill="#fff" stroke="#fff" stroke-width="1.0"/>
<rect x="594.6" y="1240" width="69.6" height="197.2" fill="#dcdcdc"/>
<rect x="594.6" y="1240.0" width="21" height="5.8" fill="#0a2a7c"/>
<path d="M594.6,1273.4 H664.2" stroke="#0a2a6a" stroke-width="1"/>
<rect x="594.6" y="1273.4" width="21" height="5.8" fill="#0a2a7c"/>
<path d="M594.6,1309.6 H664.2" stroke="#0a2a6a" stroke-width="1"/>
<rect x="594.6" y="1309.6" width="21" height="5.8" fill="#0a2a7c"/>
<path d="M594.6,1346.0 H664.2" stroke="#0a2a6a" stroke-width="1"/>
<rect x="594.6" y="1346.0" width="21" height="5.8" fill="#0a2a7c"/>
<path d="M594.6,1382.5 H664.2" stroke="#0a2a6a" stroke-width="1"/>
<rect x="594.6" y="1382.5" width="21" height="5.8" fill="#0a2a7c"/>
<path d="M594.6,1419.0 H664.2" stroke="#0a2a6a" stroke-width="1"/>
<rect x="594.6" y="1419.0" width="21" height="5.8" fill="#0a2a7c"/>
<rect x="678" y="1194" width="93" height="257" rx="13" fill="#0a4f85" stroke="#06233f" stroke-width="2"/>
<path d="M684,1206 Q684,1200 690,1200 H759.3 Q765.3,1200 765.3,1206 V1329 H684 Z" fill="#e4e4e4"/>
<rect x="684" y="1329" width="81.3" height="17.5" fill="#0b328a"/>
<path d="M684,1346.5 H765.3 Q755,1349.5 724.6,1349.5 Q694,1349.5 684,1346.5 Z" fill="#e9eef5"/>
<rect x="680" y="1352" width="89" height="22" fill="url(#modg)" opacity="0.9"/>
<rect x="704" y="1204" width="8.2" height="15" fill="#e03024"/>
<text x="708" y="1218.5" font-size="19" fill="#0a1f6a" textLength="20" lengthAdjust="spacingAndGlyphs">E1</text>
<text x="730" y="1218" font-size="5.5" fill="#0a1f6a" textLength="19" lengthAdjust="spacingAndGlyphs">MONO</text>
<rect x="698" y="1222" width="53.6" height="70.7" rx="3" fill="url(#lcd)"/>
<circle cx="701.5" cy="1300.6" r="3.6" fill="#e2402c"/>
<text x="707" y="1304.5" font-size="10.5" font-style="italic" fill="#10286e" textLength="43" lengthAdjust="spacingAndGlyphs">PEDROLLO</text>
<path d="M724,1308.5 H749" stroke="#5a6a9a" stroke-width="1" stroke-dasharray="2 1"/>
<circle cx="709.0" cy="1321.4" r="6.3" fill="#e4e4e4" stroke="#0a1f6a" stroke-width="1.1"/>
<path d="M709.0,1325 l3.6,-6 h-7.2 Z" fill="#0a1f6a"/>
<circle cx="739.2" cy="1321.4" r="6.3" fill="#e4e4e4" stroke="#0a1f6a" stroke-width="1.1"/>
<path d="M739.2,1318 l3.6,6 h-7.2 Z" fill="#0a1f6a"/>
<circle cx="700.9" cy="1338" r="5" fill="#dfe6f2"/><circle cx="700.9" cy="1338" r="3" fill="none" stroke="#24408f" stroke-width="0.9"/>
<circle cx="723.7" cy="1338" r="5" fill="#dfe6f2"/><circle cx="723.7" cy="1338" r="3" fill="none" stroke="#24408f" stroke-width="0.9"/>
<circle cx="747.2" cy="1338" r="5" fill="#dfe6f2"/><circle cx="747.2" cy="1338" r="3" fill="none" stroke="#24408f" stroke-width="0.9"/>
<rect x="686.7" y="1374" width="74.5" height="69.2" rx="4.5" fill="#dcdcdc"/>
<circle cx="725.8" cy="1412.3" r="25" fill="url(#knob)"/>
<path d="M701.5,1403.5 H746 Q750,1412 746,1421 H701.5 Q700,1412 701.5,1403.5 Z" fill="#161616"/>
<path d="M750.5,1404 H735 V1420.5 H750.5 Q751.5,1412 750.5,1404 Z" fill="#4a4a4a" opacity="0.7"/>
<path d="M702.5,1412.3 L724.2,1407.6 V1417 Z" fill="#fff"/>
<path d="M721.5,1376.5 V1383" stroke="#111" stroke-width="1"/><text x="723.5" y="1382.5" font-size="4.8" fill="#111">ON</text>
<text x="688.7" y="1407.3" font-size="4.3" fill="#111">OFF</text><circle cx="693.1" cy="1412.3" r="2.9" fill="none" stroke="#111" stroke-width="0.8"/></g>
<path fill="#e30f1d" d="M640,1042 H671.8 L656.4,1117.9 Z"/>
<rect x="459.2" y="888.8" width="394.5" height="155.7" rx="26" fill="#ffffff" fill-opacity="0.97" stroke="#dc1f2b" stroke-width="5"/>
<text x="566.5" y="952.0" font-size="51" fill="#000" stroke="#000" stroke-width="1.1" textLength="170.7" lengthAdjust="spacingAndGlyphs">Tablero</text>
<text x="552.9" y="1002.4" font-size="51" fill="#000" stroke="#000" stroke-width="1.1" textLength="198.0" lengthAdjust="spacingAndGlyphs">eléctrico</text>
<path fill="#e30f1d" d="M1751.8,1615 H1782.3 L1767.6,1689.3 Z"/>
<rect x="1572.9" y="1462.8" width="393.6" height="154.1" rx="26" fill="#ffffff" fill-opacity="0.90" stroke="#dc1f2b" stroke-width="5"/>
<text x="1683.7" y="1531.5" font-size="51" fill="#000" stroke="#000" stroke-width="1.1" textLength="162.8" lengthAdjust="spacingAndGlyphs">Válvula</text>
<text x="1642.8" y="1582.3" font-size="51" fill="#000" stroke="#000" stroke-width="1.1" textLength="245.0" lengthAdjust="spacingAndGlyphs">compuerta</text>
<path fill="#e30f1d" d="M1030,2019 V2049.5 L955,2035 Z"/>
<rect x="1027.5" y="1956.5" width="393.8" height="154.0" rx="26" fill="#ffffff" fill-opacity="0.90" stroke="#dc1f2b" stroke-width="5"/>
<text x="1142.0" y="2020.0" font-size="51" fill="#000" stroke="#000" stroke-width="1.1" textLength="164.0" lengthAdjust="spacingAndGlyphs">Válvula</text>
<text x="1118.0" y="2070.3" font-size="51" fill="#000" stroke="#000" stroke-width="1.1" textLength="214.0" lengthAdjust="spacingAndGlyphs">retención</text>
<path fill="#e30f1d" d="M2122,2426 V2459 L2199.8,2441.2 Z"/>
<rect x="1733.5" y="2367.5" width="391.0" height="150.0" rx="26" fill="#ffffff" fill-opacity="0.90" stroke="#dc1f2b" stroke-width="5"/>
<text x="1825.5" y="2454.6" font-size="51" fill="#000" stroke="#000" stroke-width="1.1" textLength="211.2" lengthAdjust="spacingAndGlyphs">Estanque</text>
<path fill="#e30f1d" d="M613,2895 V2928 L689,2912 Z"/>
<rect x="222.5" y="2838.5" width="393.0" height="153.0" rx="26" fill="#ffffff" fill-opacity="0.90" stroke="#dc1f2b" stroke-width="5"/>
<text x="310.5" y="2907.0" font-size="51" fill="#000" stroke="#000" stroke-width="1.1" textLength="158.0" lengthAdjust="spacingAndGlyphs">Bomba</text>
<text x="310.5" y="2953.5" font-size="51" fill="#000" stroke="#000" stroke-width="1.1" textLength="241.0" lengthAdjust="spacingAndGlyphs">de drenaje</text>
</svg>
</body></html>
